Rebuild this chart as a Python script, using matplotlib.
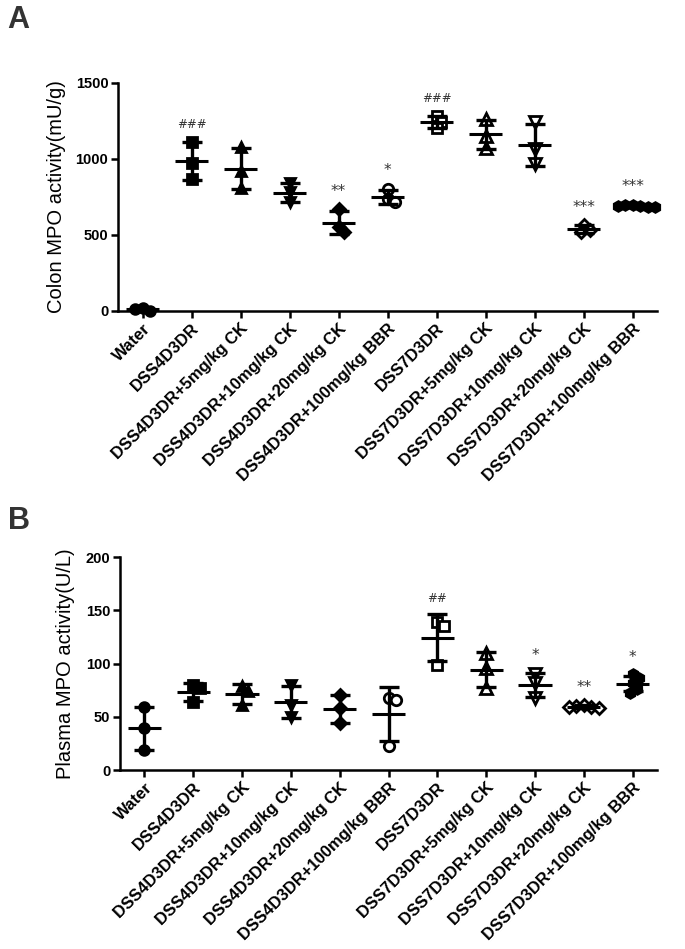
import numpy as np
import matplotlib
matplotlib.use("Agg")
import matplotlib.pyplot as plt

plt.rcParams['font.family'] = ['Liberation Sans', 'DejaVu Sans']

groups = ["Water", "DSS4D3DR", "DSS4D3DR+5mg/kg CK", "DSS4D3DR+10mg/kg CK",
          "DSS4D3DR+20mg/kg CK", "DSS4D3DR+100mg/kg BBR", "DSS7D3DR",
          "DSS7D3DR+5mg/kg CK", "DSS7D3DR+10mg/kg CK", "DSS7D3DR+20mg/kg CK",
          "DSS7D3DR+100mg/kg BBR"]

colon_values = [
    [20, 2, 12],
    [1114, 975, 868],
    [1080, 920, 810],
    [840, 780, 715],
    [670, 555, 520],
    [805, 735, 715],
    [1285, 1245, 1205],
    [1265, 1150, 1075],
    [1240, 1065, 965],
    [565, 535, 518],
    [695, 688, 700, 683, 690, 685],
]
plasma_values = [
    [59, 39, 19],
    [80, 77, 64],
    [79, 74, 61],
    [80, 61, 50],
    [70, 58, 44],
    [68, 66, 23],
    [139, 135, 99],
    [110, 96, 77],
    [90, 82, 68],
    [61, 59, 60, 58, 59.5],
    [90, 86, 82, 76, 72],
]
colon_sig = ["", "###", "", "", "**", "*", "###", "", "", "***", "***"]
plasma_sig = ["", "", "", "", "", "", "##", "", "*", "**", "*"]

colon_ticks = [0, 500, 1000, 1500]
plasma_ticks = [0, 50, 100, 150, 200]

# styles
markers = ['o', 's', '^', 'v', 'D', 'o', 's', '^', 'v', 'D', 'h']
filled = [True, True, True, True, True, False, False, False, False, False, True]
msizes = [7, 7, 7.5, 7.5, 6, 7.5, 7.5, 8, 8, 6.5, 7]

FIG_W, FIG_H, DPI = 6.85, 9.49, 100


def swarm(vals, ypx_per_unit, xpx_per_unit, dmin=7.5):
    """Beeswarm-style horizontal offsets (in data units) so markers don't overlap."""
    vals = np.asarray(vals, float)
    ypx = vals * ypx_per_unit
    placed = []
    offs = np.zeros(len(vals))
    cand = [0.0]
    for k in range(1, 80):
        cand += [k * 0.5, -k * 0.5]
    for i in range(len(vals)):
        for c in cand:
            ok = True
            for (px, py) in placed:
                if (c - px) ** 2 + (ypx[i] - py) ** 2 < dmin ** 2:
                    ok = False
                    break
            if ok:
                placed.append((c, ypx[i]))
                offs[i] = c / xpx_per_unit
                break
    return offs


def panel(ax, values, sig, ticks, ylabel, ymax):
    span = ymax
    bbox = ax.get_position()
    ypu = bbox.height * FIG_H * DPI / ymax
    xpu = bbox.width * FIG_W * DPI / len(values)
    for i, vals in enumerate(values):
        vals = np.asarray(vals, float)
        offs = swarm(vals, ypu, xpu)
        fc = 'black' if filled[i] else 'white'
        ax.plot(i + offs, vals, linestyle='none', marker=markers[i],
                markersize=msizes[i], markerfacecolor=fc,
                markeredgecolor='black', markeredgewidth=2.0,
                clip_on=False, zorder=3)
        m = vals.mean()
        sd = vals.std(ddof=1)
        ax.errorbar(i, m, yerr=sd, fmt='none', ecolor='black',
                    elinewidth=2.4, capsize=7, capthick=2.4, zorder=4,
                    clip_on=False)
        ax.plot([i - 0.34, i + 0.34], [m, m], color='black', lw=2.2,
                zorder=4, solid_capstyle='butt')
        if sig[i]:
            top = max(m + sd, vals.max())
            fs = 8.5 if sig[i].startswith('#') else 11
            ax.text(i, top + 0.045 * span, sig[i], ha='center',
                    va='bottom', fontsize=fs, color='#333333',
                    family=['DejaVu Sans'])
    ax.set_xlim(-0.5, len(values) - 0.5)
    ax.set_ylim(0, ymax)
    ax.set_yticks(ticks)
    ax.set_yticklabels([str(t) for t in ticks], fontsize=10.5,
                       fontweight='bold')
    ax.set_xticks(range(len(groups)))
    ax.set_xticklabels(groups, rotation=45, ha='right',
                       rotation_mode='anchor', fontsize=12,
                       fontweight='bold')
    ax.set_ylabel(ylabel, fontsize=14.5)
    for s in ['top', 'right']:
        ax.spines[s].set_visible(False)
    for s in ['left', 'bottom']:
        ax.spines[s].set_linewidth(1.8)
    ax.tick_params(direction='out', length=5, width=1.8, pad=2)


fig = plt.figure(figsize=(FIG_W, FIG_H), dpi=DPI)
axA = fig.add_axes([0.1723, 0.6723, 0.7869, 0.2403])
axB = fig.add_axes([0.1752, 0.1886, 0.784, 0.2244])

panel(axA, colon_values, colon_sig, colon_ticks,
      "Colon MPO activity(mU/g)", 1500)
panel(axB, plasma_values, plasma_sig, plasma_ticks,
      "Plasma MPO activity(U/L)", 200)
axA.yaxis.set_label_coords(-0.097, 0.5)
axB.yaxis.set_label_coords(-0.083, 0.5)

fig.text(0.011, 0.979, "A", fontsize=22, fontweight='bold', color='#333333',
         va='center')
fig.text(0.011, 0.451, "B", fontsize=22, fontweight='bold', color='#333333',
         va='center')

fig.savefig("out.png", dpi=DPI)
